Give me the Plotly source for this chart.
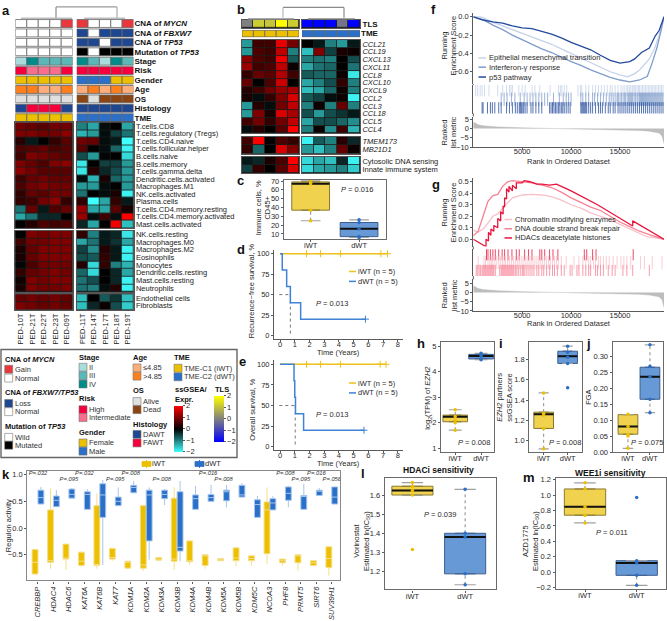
import plotly.graph_objects as go

W, H = 667, 621
FONT = "Liberation Sans"
INK = "#2a2a2a"
SPINE = "#5a5a5a"
IWT, DWT = "#ecbf00", "#2a70c8"
FILL_I, FILL_D = "#f0d24e", "#6699d6"

# ---------------- panel a data ----------------
ANNOT_LABELS_A = ["CNA of <i>MYCN</i>", "CNA of <i>FBXW7</i>", "CNA of <i>TP53</i>", "Mutation of <i>TP53</i>",
                  "Stage", "Risk", "Gender", "Age", "OS", "Histology", "TME"]
ANNOT_A_L = [list("NNNNG"), list("NNNNN"), list("NNNNN"), list("WWWWW"),
             ["II", "IV", "III", "III", "III"], list("HIIIH"), list("FFFFF"), list(">>ll>"),
             list("aaaaa"), list("DRRRD"), list("iiiii")]
ANNOT_A_R = [list("GNNNG"), list("LNLLL"), list("LLNLL"), list("MWMMM"),
             ["IV", "III", "II", "IV", "III"], list("HHHHH"), list("mmmFF"), list("l>l>l"),
             list("daddd"), list("DDDDD"), list("ttttt")]
COLS = {"N": "#ffffff", "G": "#e8383d", "L": "#1f4690", "W": "#ffffff", "M": "#000000",
        "II": "#a9dcdc", "III": "#5cb8b8", "IV": "#008b8b", "H": "#f5003c", "I": "#fb6d8c",
        "F": IWT, "m": DWT, ">": "#fd7f1e", "l": "#fdad7a", "a": "#e0e0e0", "d": "#8b4513",
        "D": "#1f4690", "R": "#f5003c", "i": IWT, "t": DWT}
SAMPLES_L = ["PED-10T", "PED-21T", "PED-22T", "PED-23T", "PED-09T"]
SAMPLES_R = ["PED-11T", "PED-14T", "PED-17T", "PED-18T", "PED-19T"]
CELLS1 = ["T.cells.CD8", "T.cells.regulatory (Tregs)", "T.cells.CD4.naive", "T.cells.follicular.helper",
          "B.cells.naive", "B.cells.memory", "T.cells.gamma.delta", "Dendritic.cells.activated",
          "Macrophages.M1", "NK.cells.activated", "Plasma.cells", "T.cells.CD4.memory.resting",
          "T.cells.CD4.memory.activated", "Mast.cells.activated"]
A1_L = [[.9, .8, .7, .9, .9], [1, 1, .9, .9, 1.1], [.3, -.2, 0, .4, .7], [.6, .7, .8, .6, .7],
        [.5, 1, .9, .8, .7], [1, .8, .6, 1, 1.1], [1.1, .9, .7, .7, .7], [.5, .8, .9, .8, .8],
        [.6, .9, 1, .9, .9], [.4, .8, .7, .9, .9], [.4, .5, .9, 1.1, .4], [-.9, .8, -.2, .6, .8],
        [-1.3, -.9, -.3, -.3, 0], [0, .3, .6, .5, .6]]
A1_R = [[-1, -1.3, -.1, 0, -1.3], [-1.4, -1.2, -.1, -.5, -.9], [.9, .8, -.1, -.2, -2], [.7, 0, -.1, -.8, -1.9],
        [-.6, -1.2, -.05, 0, -1.7], [-1.8, 0, -.5, -.5, -1.2], [-1.8, .3, -.3, -.6, -1.2], [-.1, -1.4, .2, -.8, -1.2],
        [-1.2, -1.2, -.1, 0, -1.2], [-.9, 0, -.1, .2, -1.9], [.4, -2, -1.3, .4, -.2], [1.2, -1.3, -1.3, .7, .2],
        [1.2, -.1, .5, -.1, 2], [-.3, -1.3, 0, 1.9, -1.5]]
CELLS2 = ["NK.cells.resting", "Macrophages.M0", "Macrophages.M2", "Eosinophils", "Monocytes",
          "Dendritic.cells.resting", "Mast.cells.resting", "Neutrophils"]
A2_L = [[0, 1, .9, 1, 1], [.5, .9, .9, 1, 1], [.2, .8, 1, 1, 1], [.2, .8, 1, 1, 1],
        [-.05, .6, .9, .9, .9], [.4, .8, .9, 1, .9], [.1, 1, .9, 1, 1], [.2, 1, .9, .9, 1]]
A2_R = [[.4, -1, -.2, -.3, -1.8], [-1.3, -.9, -.2, -.4, -1.3], [-.5, -1.1, .3, -.2, -1.9], [-.6, -.7, .4, -.2, -1.9],
        [.3, -1.7, .4, -1, -1.4], [-.8, -1.7, 0, -.3, -1.3], [-.9, -.6, 0, -.3, -1.9], [-.9, -1, -.1, .3, -1.9]]
CELLS3 = ["Endothelial cells", "Fibroblasts"]
A3_L = [[.8, .9, .8, .9, .8], [1, .9, .8, .9, .8]]
A3_R = [[-1.5, 0, -.7, -.4, -1.5], [-1.5, -.3, .1, -.6, -1.6]]

# ---------------- panel b data ----------------
TLS_L = [[0, 1.2, 1.1, 2, 1.2]]
TLS_R = [[-2, -2, -2, -.2, -2]]
GENES1 = ["CCL21", "CCL19", "CXCL13", "CXCL11", "CCL8", "CXCL10", "CXCL9", "CCL2", "CCL3", "CCL18", "CCL5", "CCL4"]
B1_L = [[-1.2, .5, .5, 1.8, .9], [-1.2, .6, .5, 1.5, -1], [1.1, .6, .5, 1.9, -.7], [1.2, .5, .6, 1.5, .1],
        [.4, .8, .7, 1.4, .5], [.8, 0, .6, 1.6, 0], [.3, .5, .9, 1.2, 1.3], [.2, -.1, .4, 1, 1.7],
        [-1.2, .3, -.1, .9, 1.5], [-1.2, 1, .2, 1.7, 1.3], [.5, .9, .4, .9, 1.5], [-.1, .3, 0, .7, 2]]
B1_R = [[0, -.2, -1, -1.2, -.2], [-1.5, 1, -.5, .2, .1], [-1, -.9, -1, 0, -.6], [-1.3, -.9, -.8, 0, -.9],
        [-.7, -.8, -.8, .1, -1.8], [-1.3, -1, -.6, .4, -1], [-1.5, -1.3, -.8, .1, -1], [-.7, -.5, -.1, .1, -1.9],
        [-1, .1, -1, .8, -1], [-.6, -1.2, -.6, -.4, -.2], [-1.3, -.6, -.6, -.8, -1.1], [-1, .1, -1.1, .5, -1.4]]
GENES2 = ["TMEM173", "MB21D1"]
B2_L = [[.5, 2, .05, .6, .4], [.4, -.8, 0, 1.7, 1]]
B2_R = [[-1.9, -.7, -1, .3, -.3], [-1.2, -1.5, -1, .8, .1]]
PATHS = ["Cytosolic DNA sensing", "Innate immune system"]
B3_L = [[-.2, -.3, .2, .6, 2], [-.5, .4, 0, .7, 1.7]]
B3_R = [[-1.7, -1.3, -1.5, -.3, -1.9], [-1.7, -1.3, -1.2, -1, -1.6]]

# ---------------- KM data ----------------
D_DWT_T = [0, .15, .45, .7, 1.4, 5.8]
D_DWT_S = [100, 80, 60, 40, 20, 20]
D_IWT_T = [0, 7.3]
D_IWT_S = [100, 100]
D_CENS_I = [1.8, 2.75, 4.1, 6.85, 7.3]
E_DWT_T = [0, .95, 1.0, 1.05, 1.6, 5.7]
E_DWT_S = [100, 80, 60, 40, 20, 20]
E_IWT_T = [0, 7.2]
E_IWT_S = [100, 100]
E_CENS_I = [1.8, 2.75, 4.1, 6.8, 7.2]

# ---------------- GSEA f ----------------
F_X1 = [0, 700, 1000, 2000, 3000, 4000, 5000, 6000, 7000, 8000, 9000, 10000, 11000, 12000, 13000, 14000, 15000, 15800, 16500, 17000, 18000, 18600, 19000, 19500]
F_Y1 = [0, 0, -.01, -.06, -.1, -.14, -.18, -.22, -.26, -.3, -.35, -.4, -.45, -.5, -.55, -.6, -.635, -.655, -.62, -.58, -.46, -.33, -.2, 0]
F_X2 = [0, 1000, 2000, 3000, 4000, 5000, 6000, 7000, 8000, 9000, 10000, 11000, 12000, 13000, 14000, 15000, 16000, 17000, 17800, 18300, 18800, 19200, 19500]
F_Y2 = [0, -.03, -.09, -.14, -.2, -.25, -.3, -.35, -.39, -.44, -.49, -.53, -.58, -.62, -.66, -.69, -.71, -.69, -.65, -.5, -.33, -.15, 0]
F_X3 = [0, 1000, 2000, 3000, 4000, 5000, 6000, 7000, 8000, 9000, 10000, 11000, 12000, 13000, 14000, 15000, 15500, 16000, 16500, 17200, 18000, 18600, 19000, 19500]
F_Y3 = [0, -.035, -.055, -.07, -.1, -.12, -.13, -.16, -.19, -.23, -.28, -.32, -.36, -.42, -.475, -.505, -.5, -.49, -.46, -.39, -.34, -.21, -.15, 0]
F_NAMES = ["Epithelial mesenchymal transition", "Interferon-γ response", "p53 pathway"]
F_COLS = ["#c5d3ea", "#7f9ccb", "#234a9c"]
F_RUG1 = [250, 450, 700, 900, 1150, 1600, 2500, 3000, 3400, 3700, 3850, 4000, 4650, 5000, 5300, 6000, 6300, 6800, 7850, 8700, 8900, 9050, 9300, 9550, 10700, 10950, 11100, 11500, 11800, 12200, 12500, 12800, 13100, 13400, 13700, 14000, 14200, 14500, 14800, 15100, 15300, 15500, 15700, 15800, 15950, 16100, 16250, 16350, 16500, 16600, 16750, 16900, 17000, 17150, 17300, 17450, 17600, 17750, 17900, 18050, 18200, 18350, 18500, 18650, 18800, 18950, 19100, 19250, 19400]
F_RUG2 = [2850, 3150, 3450, 3900, 4250, 4800, 5200, 5500, 5800, 6100, 6400, 6700, 7000, 7300, 7600, 8200, 8800, 9200, 9500, 9750, 10000, 11000, 11200, 11500, 11800, 12200, 12400, 12700, 13000, 13300, 13600, 13900, 14100, 14300, 14500, 14700, 14800, 14900, 15100, 15200, 15400, 15500, 15600, 15800, 15900, 16000, 16100, 16200, 16300, 16450, 16600, 16750, 16850, 17000, 17100, 17200, 17300, 17400, 17500, 17600, 17700, 17800, 17900, 18000, 18100, 18200, 18300, 18400, 18500, 18600, 18700, 18800, 18900, 19000, 19100, 19200, 19300, 19400]
F_RUG3 = [900, 1000, 1450, 1750, 1950, 2200, 2600, 2850, 3400, 3700, 4000, 4300, 4500, 4700, 4800, 4900, 5000, 5150, 5300, 5500, 5900, 6100, 6400, 6700, 7000, 7800, 7950, 8100, 8250, 8400, 8550, 8700, 8850, 9000, 9150, 9300, 9500, 9700, 9900, 11000, 11100, 11200, 11300, 11400, 11500, 11600, 11800, 12000, 12200, 12500, 12800, 13000, 13200, 13500, 13800, 14000, 14300, 14500, 14800, 15000, 15200, 15400, 15600, 15800, 16000, 16200, 16400, 16600, 16800, 17000, 17200, 17400, 17600, 17800, 18000, 18200, 18400, 18600, 18800, 19000, 19200, 19400]
METRIC_X = [0, 200, 500, 1000, 2500, 5000, 7500, 10000, 12500, 15000, 17000, 18000, 19000, 19300, 19500]
METRIC_Y = [3.6, 3, 2.1, 1.5, .9, .4, .15, 0, -.2, -.5, -1, -1.4, -2.4, -4, -8]

# ---------------- GSEA g ----------------
G_X1 = [0, 500, 1000, 1500, 2000, 2500, 3000, 3500, 4000, 5000, 6000, 7000, 8000, 9000, 10000, 11000, 12000, 13000, 14000, 15000, 16000, 17000, 17800, 18500, 19500]
G_Y1 = [.08, .06, .09, .14, .2, .22, .27, .32, .36, .385, .39, .385, .37, .34, .3, .27, .23, .2, .17, .13, .09, .05, .02, .015, 0]
G_X2 = [0, 500, 1000, 1500, 2000, 2500, 3000, 3500, 4000, 5000, 6000, 7000, 8000, 9000, 10000, 11000, 12000, 13000, 14000, 15000, 16000, 17000, 18000, 19500]
G_Y2 = [.03, .07, .2, .33, .38, .39, .46, .5, .51, .5, .49, .47, .45, .41, .36, .32, .28, .25, .2, .15, .11, .07, .04, 0]
G_X3 = [0, 1300, 1300, 1550, 1550, 1800, 1800, 2100, 2100, 2500, 2500, 2800, 2800, 3050, 3050, 3200, 3200, 3400, 3400, 3650, 3650, 4000, 4000, 4400, 4400, 5000, 5200, 5800, 6500, 7000, 7800, 8500, 9000, 10000, 12700, 16300, 16300, 19500]
G_Y3 = [0, -.065, 0, -.015, .06, .035, .09, .07, .12, .1, .18, .16, .24, .22, .29, .28, .36, .35, .44, .41, .46, .42, .47, .44, .49, .49, .51, .5, .48, .48, .47, .48, .46, .42, .3, .115, .16, 0]
G_NAMES = ["Chromatin modifying enzymes", "DNA double strand break repair", "HDACs deacetylate histones"]
G_COLS = ["#f8c0c8", "#f78095", "#e8143c"]
G_RUG1 = [1350, 1500, 1750, 2000, 2250, 2600, 2950, 3200, 3550, 3950, 4400, 4700, 5250, 5650, 6000, 6800, 7000, 7300, 7800, 8150, 8650, 11350, 11600, 12200, 12550, 16350]
G_RUG2 = [500, 1100, 1250, 1500, 1700, 1850, 2000, 2200, 2400, 2600, 2800, 3000, 3150, 3300, 3500, 3700, 3900, 4100, 4300, 4500, 4700, 4900, 5100, 5300, 5500, 5700, 5900, 6100, 6300, 6500, 6700, 6900, 7100, 7300, 7500, 7700, 7900, 8100, 8300, 8500, 8700, 9000, 9500, 10300, 10800, 11200, 11500, 11800, 12000, 12300, 12500, 12800, 13000, 13300, 13600, 13900, 14300, 14700, 15100, 15400, 15700, 16100, 17100, 17500, 18300, 19300]
G_RUG3 = [300, 450, 600, 750, 900, 1000, 1100, 1200, 1300, 1400, 1500, 1600, 1700, 1800, 1900, 2000, 2100, 2250, 2700, 2850, 2950, 3050, 3150, 3250, 3350, 3450, 3550, 3650, 3750, 3850, 3950, 4050, 4150, 4300, 4450, 4600, 4800, 5000, 5100, 5200, 5400, 5600, 5800, 6000, 6200, 6500, 6700, 7000, 7200, 7500, 7800, 8100, 8300, 8600, 9000, 9300, 9900, 10100, 10600, 10800, 11200, 11500, 11800, 12000, 12500, 12700, 13000, 13300, 13800, 14200, 14500, 15300, 15700, 16300, 18000]

# ---------------- panel k ----------------
REG_GENES = ["CREBBP", "HDAC4", "HDAC6", "KAT6A", "KAT6B", "KAT7", "KDM1A", "KDM2A", "KDM3A", "KDM3B", "KDM4A",
             "KDM4B", "KDM5A", "KDM5B", "KDM5C", "NCOA3", "PHF8", "PRMT5", "SIRT6", "SUV39H1"]
# q1, median, q3, lower, upper
REG_I = [(-.86, -.64, -.40, -.86, -.40), (-.64, -.61, .34, -.76, .74), (-.58, -.56, -.30, -.78, -.30), (-.70, -.62, -.45, -.72, -.45),
         (-.70, -.69, .42, -.76, .65), (-.58, -.55, -.38, -.61, -.38), (-.75, -.64, -.62, -.76, -.62), (-.75, -.69, .42, -.80, .42),
         (-.60, -.58, -.55, -.60, -.55), (-.62, -.58, .56, -.78, .76), (-.63, -.62, -.24, -.69, -.24), (-.70, -.51, -.50, -.76, -.50),
         (-.61, -.59, -.57, -.61, -.57), (-.61, -.56, -.37, -.71, -.37), (-.61, -.57, -.52, -.70, -.52), (-.48, .34, .49, -.67, .76),
         (-.65, -.61, -.58, -.70, -.58), (-.65, -.51, -.50, -.80, -.50), (-.70, -.65, -.61, -.70, -.61), (-.74, -.57, -.35, -.89, -.35)]
REG_D = [(.45, .57, .71, .45, .77), (.40, .52, .60, .40, .71), (.56, .63, .73, .56, .75), (.35, .63, .68, .35, .73),
         (.20, .62, .83, -.69, .90), (.42, .50, .58, .42, .76), (.66, .76, .80, .66, .88), (-.24, .62, .71, -.59, .76),
         (.55, .63, .71, .43, .73), (-.43, -.36, .68, -.62, .88), (.35, .55, .62, .35, .79), (.50, .57, .63, .50, .81),
         (.51, .68, .71, .39, .81), (.58, .62, .80, .58, .84), (.20, .44, .53, .20, .60), (.34, .47, .55, .34, .60),
         (.52, .65, .77, .39, .79), (.35, .59, .61, .35, .83), (.61, .69, .71, .61, .75), (.45, .58, .77, .45, .77)]
P_GENES = ["CREBBP", "HDAC6", "KAT6A", "KAT7", "KDM1A", "KDM3A", "KDM4B", "KDM5A", "PHF8", "PRMT5", "SIRT6", "SUV39H1"]
P_VALS = ["P=.032", "P=.095", "P=.032", "P=.095", "P=.008", "P=.008", "P=.016", "P=.008", "P=.008", "P=.095", "P=.016", "P=.056"]
P_LEVELS = [1.02, .91, 1.02, .91, 1.02, .91, 1.02, .91, 1.02, .91, 1.02, .91]

# ---------------- small box panels: q1, med, q3, lo, hi, points ----------------
C_I = (37, 67, 69, 25, 71, [71, 68, 67, 37, 25])
C_D = (7, 16, 23, 6, 26, [26, 23, 16, 7, 6])
H_I = (2.04, 2.24, 2.3, 1.71, 2.51, [2.51, 2.25, 2.1, 2.0, 1.71])
H_D = (4.5, 4.62, 4.68, 4.47, 4.72, [4.72, 4.65, 4.62, 4.5, 4.47])
I_I = (1.12, 1.26, 1.28, .92, 1.47, [1.47, 1.27, 1.25, 1.12, .92])
I_D = (1.76, 1.83, 1.88, 1.76, 1.93, [1.93, 1.87, 1.82, 1.76, 1.52])
J_I = (.056, .08, .117, .012, .117, [.118, .08, .055, .05, .012])
J_D = (.165, .235, .265, .123, .335, [.335, .268, .235, .165, .123])
L_I = (1.6, 1.624, 1.646, 1.6, 1.665, [1.665, 1.645, 1.624, 1.6, 1.315])
L_D = (1.188, 1.38, 1.40, 1.131, 1.63, [1.63, 1.4, 1.38, 1.188, 1.131])
M_I = (.74, .85, 1.08, .64, 1.16, [1.16, 1.08, .85, .74, .64])
M_D = (-.04, .12, .15, -.17, .15, [.97, .15, .12, -.04, -.17])

# ---------------- builders ----------------
fig = go.Figure()
layout = {}
annots, shapes = [], []
n_ax = [0]
SSGSEA = [[0, "#40ffff"], [.5, "#000000"], [1, "#ff0000"]]
TLSCS = [[0, "#0000ff"], [.5, "#808080"], [1, "#ffff00"]]


def axes(l, t, r, b, xr, yr, xo=None, yo=None):
    n_ax[0] += 1
    k = n_ax[0]
    base = dict(showgrid=False, zeroline=False, showline=False, ticks="", showticklabels=False,
                linecolor=SPINE, tickcolor=SPINE, ticklen=2, tickwidth=1, tickfont=dict(size=7.5, color=INK))
    xd = dict(base, domain=[l / W, r / W], range=xr, anchor=f"y{k}")
    yd = dict(base, domain=[1 - b / H, 1 - t / H], range=yr, anchor=f"x{k}")
    xd.update(xo or {})
    yd.update(yo or {})
    if xd.get("showticklabels") and "ticklabelstandoff" not in xd:
        xd["ticklabelstandoff"] = -4
    layout[f"xaxis{k}"] = xd
    layout[f"yaxis{k}"] = yd
    return f"x{k}", f"y{k}"


def T(x, y, s, size=7.5, anchor="left", color=INK, angle=0, bold=False):
    annots.append(dict(xref="paper", yref="paper", x=x / W, y=1 - y / H, text=f"<b>{s}</b>" if bold else s,
                       showarrow=False, xanchor=anchor, yanchor="middle", textangle=angle, borderpad=0, borderwidth=0,
                       font=dict(size=size, color=color, family=FONT), align="center"))


def L(x0, y0, x1, y1, color="#999", width=1.5, dash=None):
    shapes.append(dict(type="line", xref="paper", yref="paper", x0=x0 / W, x1=x1 / W, y0=1 - y0 / H, y1=1 - y1 / H,
                       line=dict(color=color, width=width, dash=dash or "solid")))


def R(x0, y0, x1, y1, fill, line="#666", width=.8, layer="above"):
    shapes.append(dict(type="rect", xref="paper", yref="paper", x0=x0 / W, x1=x1 / W, y0=1 - y0 / H, y1=1 - y1 / H,
                       fillcolor=fill, line=dict(color=line, width=width), layer=layer))


def heat(l, t, r, b, z, scale=SSGSEA, xo=None, yo=None, colorbar=None):
    nr = len(z)
    frame = dict(showline=True, mirror=True, linecolor="#555", linewidth=.8)
    xa, ya = axes(l, t, r, b, [-.5, 4.5], [nr - .5, -.5], dict(frame, **(xo or {})), dict(frame, **(yo or {})))
    R(l, t, r, b, "#1c1c1c", "#1c1c1c", .5, layer="below")
    tr = go.Heatmap(z=z, x=list(range(5)), y=list(range(nr)), zmin=-2, zmax=2, colorscale=scale, xgap=.8, ygap=.8,
                    showscale=colorbar is not None, xaxis=xa, yaxis=ya, hoverinfo="skip")
    if colorbar:
        tr.colorbar = colorbar
    fig.add_trace(tr)
    return xa, ya


def rows(l, t, r, b, cats, labels=None, size=8):
    nr = len(cats)
    yo = {}
    if labels:
        yo = dict(side="right", showticklabels=True, tickmode="array", tickvals=list(range(nr)),
                  ticktext=[f"<b>{s}</b>" for s in labels], tickfont=dict(size=size, color="#111"), ticklen=0)
    xa, ya = axes(l, t, r, b, [0, 5], [nr - .5, -.5], None, yo)
    for i, row in enumerate(cats):
        fig.add_trace(go.Bar(orientation="h", y=[i] * 5, x=[1] * 5, base=list(range(5)), width=.84,
                             marker=dict(color=[COLS[c] for c in row], line=dict(color="#666", width=.8)),
                             xaxis=xa, yaxis=ya, hoverinfo="skip"))


def sbox(xa, ya, pos, st, fill, edge, dot, width=.78):
    q1, med, q3, lo, hi, pts = st
    fig.add_trace(go.Box(x=[pos], q1=[q1], median=[med], q3=[q3], lowerfence=[q1], upperfence=[q3], width=width,
                         fillcolor=fill, line=dict(color=edge, width=1), boxpoints=False, xaxis=xa, yaxis=ya,
                         hoverinfo="skip"))
    w = "#8a8a8a"
    cap = width * .26
    fig.add_trace(go.Scatter(x=[pos, pos, None, pos, pos], y=[lo, q1, None, q3, hi], mode="lines",
                             line=dict(color=w, width=1, dash="dot"), xaxis=xa, yaxis=ya, hoverinfo="skip"))
    fig.add_trace(go.Scatter(x=[pos - cap, pos + cap, None, pos - cap, pos + cap], y=[lo, lo, None, hi, hi], mode="lines",
                             line=dict(color="#a0a0a0", width=1.2), xaxis=xa, yaxis=ya, hoverinfo="skip"))
    fig.add_trace(go.Scatter(x=[pos - width / 2, pos + width / 2], y=[med, med], mode="lines",
                             line=dict(color="#111", width=2), xaxis=xa, yaxis=ya, hoverinfo="skip"))
    fig.add_trace(go.Scatter(x=[pos] * len(pts), y=pts, mode="markers", marker=dict(color=dot, size=3.5),
                             xaxis=xa, yaxis=ya, hoverinfo="skip"))


def spines(tickvals=None, **kw):
    d = dict(showline=True, mirror=True, linecolor="#6a6a6a", linewidth=1.4, ticks="outside", showticklabels=True)
    if tickvals is not None:
        d.update(tickmode="array", tickvals=tickvals)
    d.update(kw)
    return d


def boxpanel(l, t, r, b, xr, yr, yticks, yfmt, A, B, width=.78):
    xa, ya = axes(l, t, r, b, xr, yr,
                  spines([0, 1], ticktext=["iWT", "dWT"], ticklabelstandoff=-3),
                  spines(yticks, ticktext=[yfmt.format(v).replace("-", "−") for v in yticks]))
    sbox(xa, ya, 0, A, FILL_I, "#8a7a30", IWT, width)
    sbox(xa, ya, 1, B, FILL_D, "#3d5f8f", DWT, width)
    return xa, ya


def km(t, b, x_i, y_i, cens, x_d, y_d, mx, ytitle, ytx, yty, title_y, leg_y, p_y):
    xa, ya = axes(274, t, 403, b, [-.41, 8.35], [-3.8, 104.8],
                  dict(showline=True, ticks="outside", showticklabels=True, tickmode="array", tickvals=list(range(9))),
                  dict(showline=True, ticks="outside", showticklabels=True, tickmode="array", tickvals=[0, 25, 50, 75, 100]))
    fig.add_trace(go.Scatter(x=[-.05, mx, None, mx, mx], y=[50, 50, None, 50, 0], mode="lines",
                             line=dict(color="#777", width=1, dash="dot"), xaxis=xa, yaxis=ya, hoverinfo="skip"))
    fig.add_trace(go.Scatter(x=x_i, y=y_i, mode="lines", line=dict(color="#efc11a", width=1.5), xaxis=xa, yaxis=ya, hoverinfo="skip"))
    fig.add_trace(go.Scatter(x=cens, y=[100] * len(cens), mode="markers",
                             marker=dict(symbol="cross-thin", size=5, line=dict(width=1, color="#efc11a")), xaxis=xa, yaxis=ya, hoverinfo="skip"))
    fig.add_trace(go.Scatter(x=x_d, y=y_d, mode="lines", line=dict(color="#3f82d6", width=1.5, shape="hv"), xaxis=xa, yaxis=ya, hoverinfo="skip"))
    fig.add_trace(go.Scatter(x=[x_d[-1]], y=[y_d[-1]], mode="markers",
                             marker=dict(symbol="cross-thin", size=5, line=dict(width=1, color="#3f82d6")), xaxis=xa, yaxis=ya, hoverinfo="skip"))
    T(338, title_y, "Time (Years)", anchor="center")
    T(ytx, yty, ytitle, angle=-90, anchor="center")
    for yy, c, s in ((leg_y, "#efc11a", "iWT (n = 5)"), (leg_y + 10, "#3f82d6", "dWT (n = 5)")):
        L(349, yy, 356, yy, c, 1.5)
        T(357.5, yy, s)
    T(316, p_y, "<i>P</i> = 0.013")


def gsea(top, es_bot, rug_t, rug_b, met_t, met_b, esr, esticks, metr, xs, ys, names, cols, rugs, rugcols, leg_x, leg_ys):
    xr = [0, 19500]
    xa, ya = axes(473.3, top, 664, es_bot, xr, esr, None,
                  dict(showline=True, ticks="outside", showticklabels=True, tickmode="array", tickvals=esticks,
                       ticktext=[f"{v:.1f}".replace("-", "−") for v in esticks]))
    for x, y, c in zip(xs, ys, cols):
        fig.add_trace(go.Scatter(x=x, y=y, mode="lines", line=dict(color=c, width=1.3), xaxis=xa, yaxis=ya, hoverinfo="skip"))
    xa2, ya2 = axes(473.3, rug_t, 664, rug_b, xr, [2.5, -.5], None, dict(showline=True))
    for i, (r, c) in enumerate(zip(rugs, rugcols)):
        fig.add_trace(go.Scatter(x=r, y=[i] * len(r), mode="markers", xaxis=xa2, yaxis=ya2, hoverinfo="skip",
                                 marker=dict(symbol="line-ns", size=9.5, opacity=.85, line=dict(color=c, width=.9))))
    xa3, ya3 = axes(473.3, met_t, 664, met_b, xr, metr,
                    dict(showline=True, ticks="outside", showticklabels=True, tickmode="array", tickvals=[5000, 10000, 15000],
                         ticktext=["5000", "10000", "15000"], ticklabelstandoff=-5),
                    dict(showline=True, ticks="outside", showticklabels=True, tickmode="array", tickvals=[5, 0, -5, -10],
                         ticktext=["5", "0", "−5", "−10"]))
    fig.add_trace(go.Scatter(x=METRIC_X, y=METRIC_Y, mode="lines", fill="tozeroy", fillcolor="#bdbdbd",
                             line=dict(color="#bdbdbd", width=.5), xaxis=xa3, yaxis=ya3, hoverinfo="skip"))
    for s, c, yy in zip(names, cols, leg_ys):
        L(leg_x, yy, leg_x + 7.5, yy, c, 1.5)
        T(leg_x + 10.5, yy, s)
    L(473.3, es_bot, 473.3, rug_t, SPINE, 1)
    L(473.3, rug_b, 473.3, met_t, SPINE, 1)


# ---------------- panel a ----------------
rows(15.3, 16, 72.7, 121, ANNOT_A_L)
rows(76.7, 16, 133.5, 121, ANNOT_A_R, ANNOT_LABELS_A)
heat(15.3, 121, 72.7, 228, A1_L, colorbar=dict(
    x=174 / W, xanchor="left", y=1 - 408 / H, yanchor="top", thickness=9, thicknessmode="pixels", len=46, lenmode="pixels",
    xpad=0, ypad=0, outlinewidth=0, tickmode="array", tickvals=[-2, -1, 0, 1, 2], ticktext=["−2", "−1", "0", "1", "2"],
    ticks="outside", ticklen=2, tickcolor=SPINE, tickfont=dict(size=7.5, color=INK)))
lab = lambda names, sz=7.5, ital=False: dict(
    side="right", showticklabels=True, tickmode="array", tickvals=list(range(len(names))),
    ticktext=[f"<i>{n}</i>" if ital else n for n in names], tickfont=dict(size=sz, color="#222"), ticklen=0)
heat(76.7, 121, 133.5, 228, A1_R, yo=lab(CELLS1))
heat(15.3, 230.7, 72.7, 292.7, A2_L)
heat(76.7, 230.7, 133.5, 292.7, A2_R, yo=lab(CELLS2))
ticks_col = lambda names: dict(showticklabels=True, tickmode="array", tickvals=list(range(5)), ticktext=names,
                               tickangle=-90, ticklen=0, ticklabelstandoff=0, tickfont=dict(size=7.5, color="#222"))
heat(15.3, 295, 72.7, 310.7, A3_L, xo=ticks_col(SAMPLES_L))
heat(76.7, 295, 133.5, 310.7, A3_R, xo=ticks_col(SAMPLES_R), yo=lab(CELLS3))
L(56, 4, 117, 4, "#9a9a9a", 1.2)
L(56, 4, 56, 15.5, "#8a8a8a", 1.2)
L(117, 4, 117, 15.5, "#aaaaaa", 1.2)
L(21, 15.5, 72, 15.5, "#bbbbbb", 1.5)
L(84, 15.5, 125, 15.5, "#bbbbbb", 1.5)

# ---------------- panel b ----------------
heat(242, 17, 299, 25.5, TLS_L, scale=TLSCS, colorbar=dict(
    x=214 / W, xanchor="left", y=1 - 398 / H, yanchor="top", thickness=9.5, thicknessmode="pixels", len=46, lenmode="pixels",
    xpad=0, ypad=0, outlinewidth=0, tickmode="array", tickvals=[-2, -1, 0, 1, 2], ticktext=["−2", "−1", "0", "1", "2"],
    ticks="outside", ticklen=2, tickcolor=SPINE, tickfont=dict(size=7.5, color=INK)))
heat(302, 17, 360, 25.5, TLS_R, scale=TLSCS, yo=dict(side="right", showticklabels=True, tickmode="array", tickvals=[0],
                                                    ticktext=["<b>TLS</b>"], tickfont=dict(size=8, color="#111"), ticklen=0))
rows(242, 27, 299, 35, [list("iiiii")])
rows(302, 27, 360, 35, [list("ttttt")], ["TME"])
heat(242, 37.5, 299, 132, B1_L)
heat(302, 37.5, 360, 132, B1_R, yo=lab(GENES1, ital=True))
heat(242, 135.7, 299, 152.7, B2_L)
heat(302, 135.7, 360, 152.7, B2_R, yo=lab(GENES2, ital=True))
heat(242, 156, 299, 172.3, B3_L)
heat(302, 156, 360, 172.3, B3_R, yo=lab(PATHS))
L(283, 4.5, 344, 4.5, "#8a8a8a", 1.2)
L(283, 4.5, 283, 15, "#bbbbbb", 1.2)
L(344, 4.5, 344, 15, "#8a8a8a", 1.2)
L(248, 16, 294, 16, "#aaaaaa", 1.5)
L(308, 16, 355, 16, "#888888", 1.2)

# ---------------- panel c ----------------
boxpanel(284, 179, 385.7, 239, [-.55, 1.55], [4.4, 71.5], [10, 20, 30, 40, 50, 60, 70], "{:d}", C_I, C_D)
T(341, 189, "<i>P</i> = 0.016")
T(263, 208, "Immune cells, %<br>CD45+", angle=-90, anchor="center")

# ---------------- panels d, e ----------------
km(250, 340, D_IWT_T, D_IWT_S, D_CENS_I, D_DWT_T, D_DWT_S, .7, "Recurrence−free survival, %", 251, 292, 354.5, 272, 304)
km(362, 452.7, E_IWT_T, E_IWT_S, E_CENS_I, E_DWT_T, E_DWT_S, 1.03, "Overall survival, %", 253, 412, 466.5, 385, 417)

# ---------------- panels f, g ----------------
gsea(10, 82, 83, 112, 115, 146, [-.733, .043], [0, -.2, -.4, -.6], [-10, 6.5],
     [F_X1, F_X2, F_X3], [F_Y1, F_Y2, F_Y3], F_NAMES, F_COLS, [F_RUG1, F_RUG2, F_RUG3], F_COLS, 478.5, [55.7, 65, 75])
T(449, 43, "Running<br>Enrichment Score", angle=-90, anchor="center")
T(449, 131, "Ranked<br>list metric", angle=-90, anchor="center")
T(569, 160.5, "Rank in Ordered Dataset", anchor="center")
gsea(177, 246.7, 249.5, 276.5, 280, 312, [-.063, .535], [0, .1, .2, .3, .4, .5], [-10, 7],
     [G_X1, G_X2, G_X3], [G_Y1, G_Y2, G_Y3], G_NAMES, G_COLS, [G_RUG1, G_RUG2, G_RUG3],
     [G_COLS[2], G_COLS[0], G_COLS[1]], 504.5, [219.3, 228.7, 238])
T(449, 212, "Running<br>Enrichment Score", angle=-90, anchor="center")
T(449, 296, "Ranked<br>list metric", angle=-90, anchor="center")
T(569, 325, "Rank in Ordered Dataset", anchor="center")

# ---------------- panels h, i, j ----------------
boxpanel(441, 343, 494, 455, [-.55, 1.5], [.85, 5.18], [1, 2, 3, 4, 5], "{:d}", H_I, H_D, .95)
T(474, 445.7, "<i>P</i> = 0.008", anchor="center")
T(428, 400, "log<sub>2</sub>(TPM) of <i>EZH2</i>", angle=-90, anchor="center")
boxpanel(529.3, 343, 582, 455, [-.6, 1.6], [.887, 1.975], [1.0, 1.2, 1.4, 1.6, 1.8], "{:.1f}", I_I, I_D, .82)
T(565, 445.7, "<i>P</i> = 0.008", anchor="center")
T(505, 400, "<i>EZH2</i> partners<br>ssGSEA score", angle=-90, anchor="center")
boxpanel(612.7, 343, 662.7, 455, [-.695, 1.58], [0, .345], [0, .05, .1, .15, .2, .25, .3], "{:.2f}", J_I, J_D, .9)
T(647, 445.7, "<i>P</i> = 0.075", anchor="center")
T(589, 400, "FGA", angle=-90, anchor="center")

# ---------------- panel k ----------------
xa, ya = axes(27.3, 474, 340, 585, [-.69, 19.53], [-.98, 1.07],
              spines(list(range(len(REG_GENES))), ticktext=[f"<i>{g}</i>" for g in REG_GENES], tickangle=-90,
                     linecolor="#888888", ticklabelstandoff=0),
              spines([-.5, 0, .5, 1], ticktext=["−0.5", "0.0", "0.5", "1.0"], linecolor="#888888"))
for i, (a, b) in enumerate(zip(REG_I, REG_D)):
    fig.add_trace(go.Box(x=[i - .19], q1=[a[0]], median=[a[1]], q3=[a[2]], lowerfence=[a[3]], upperfence=[a[4]], width=.38,
                         whiskerwidth=0, fillcolor=IWT, line=dict(color="#f6df8a", width=1), boxpoints=False,
                         xaxis=xa, yaxis=ya, hoverinfo="skip"))
    fig.add_trace(go.Box(x=[i + .19], q1=[b[0]], median=[b[1]], q3=[b[2]], lowerfence=[b[3]], upperfence=[b[4]], width=.38,
                         whiskerwidth=0, fillcolor=DWT, line=dict(color="#a6c6ec", width=1), boxpoints=False,
                         xaxis=xa, yaxis=ya, hoverinfo="skip"))
fig.add_trace(go.Scatter(x=[REG_GENES.index(g) for g in P_GENES], y=P_LEVELS, text=P_VALS, mode="text",
                         textfont=dict(size=5.8, color="#333", family=FONT, style="italic"), cliponaxis=False,
                         xaxis=xa, yaxis=ya, hoverinfo="skip"))
T(8, 530, "Regulon activity", angle=-90, anchor="center")
for x0, c, s in ((142, IWT, "iWT"), (195, DWT, "dWT")):
    L(x0 + 4.5, 463, x0 + 4.5, 471, c, 1)
    R(x0, 464.5, x0 + 9, 469.5, c, c)
    T(x0 + 10, 467, s)

# ---------------- panels l, m ----------------
boxpanel(385, 481, 495.7, 594, [-.52, 1.58], [1.107, 1.69], [1.2, 1.3, 1.4, 1.5, 1.6], "{:.1f}", L_I, L_D)
T(438, 473.5, "HDACi sensitivity", size=8.5, anchor="center", bold=True, color="#111")
T(440, 518, "<i>P</i> = 0.039", anchor="center")
T(362, 545, "Vorinostat<br>Estimated ln(IC<sub>50</sub>)", angle=-90, anchor="center")
boxpanel(555.7, 481, 666, 593.3, [-.567, 1.567], [-.213, 1.225], [-.2, 0, .2, .4, .6, .8, 1.0, 1.2], "{:.1f}", M_I, M_D, .8)
T(610, 476, "WEE1i sensitivity", size=8.5, anchor="center", bold=True, color="#111")
T(612, 536.7, "<i>P</i> = 0.011", anchor="center")
T(531, 545, "AZD1775<br>Estimated ln(IC<sub>50</sub>)", angle=-90, anchor="center")

# ---------------- shared legend box ----------------
R(1, 351, 237, 460.5, "rgba(0,0,0,0)", "#666", 1.4)


def head(x, y, s):
    T(x, y, s, size=7.5, bold=True, color="#111")


def item(x, y, c, s):
    R(x, y - 4, x + 8, y + 4, c, "#777", .6)
    T(x + 10, y, s, color="#333")


head(5, 361, "CNA of <i>MYCN</i>")
item(4.7, 371, COLS["G"], "Gain"); item(4.7, 380, "#fff", "Normal")
head(5, 395, "CNA of <i>FBXW7/TP53</i>")
item(4.7, 405.7, COLS["L"], "Loss"); item(4.7, 414, "#fff", "Normal")
head(5, 429.5, "Mutation of <i>TP53</i>")
item(4.7, 440, "#fff", "Wild"); item(4.7, 448, "#000", "Mutated")
head(79, 359, "Stage")
item(79, 369, COLS["II"], "II"); item(79, 377.5, COLS["III"], "III"); item(79, 386, COLS["IV"], "IV")
head(79, 401, "Risk")
item(79, 412, COLS["H"], "High"); item(79, 420, COLS["I"], "Intermediate")
head(79, 435, "Gender")
item(79, 445.7, IWT, "Female"); item(79, 454, DWT, "Male")
head(133, 359, "Age")
item(133, 369.7, COLS["l"], "≤4.85"); item(133, 378, COLS[">"], ">4.85")
head(133, 393, "OS")
item(133, 403.7, COLS["a"], "Alive"); item(133, 412, COLS["d"], "Dead")
head(133, 427, "Histology")
item(133, 437, COLS["D"], "DAWT"); item(133, 445.7, COLS["R"], "FAWT")
head(174, 359, "TME")
item(174, 370, IWT, "TME-C1 (iWT)"); item(174, 378.7, DWT, "TME-C2 (dWT)")
head(175, 391.7, "ssGSEA/")
head(175, 401.7, "Expr.")
head(215, 391.7, "TLS")

# ---------------- panel letters ----------------
for s, x, y in (("a", 6, 8), ("b", 241, 7), ("c", 240, 180), ("d", 241, 250), ("e", 242, 363), ("f", 433, 7), ("g", 436, 184),
                ("h", 421, 345), ("i", 501, 345), ("j", 588, 345), ("k", 6, 478), ("l", 363, 477), ("m", 529, 481)):
    T(x, y, s, size=13, anchor="center", bold=True, color="#111")

fig.update_layout(width=W, height=H, margin=dict(l=0, r=0, t=0, b=0, pad=0), paper_bgcolor="white",
                  plot_bgcolor="rgba(0,0,0,0)", showlegend=False, barmode="overlay", boxmode="overlay", autosize=False,
                  font=dict(family=FONT, size=7.5, color=INK), annotations=annots, shapes=shapes, **layout)
fig.write_html("out.html", config={"displayModeBar": False}, post_script="document.body.style.margin='0';")
